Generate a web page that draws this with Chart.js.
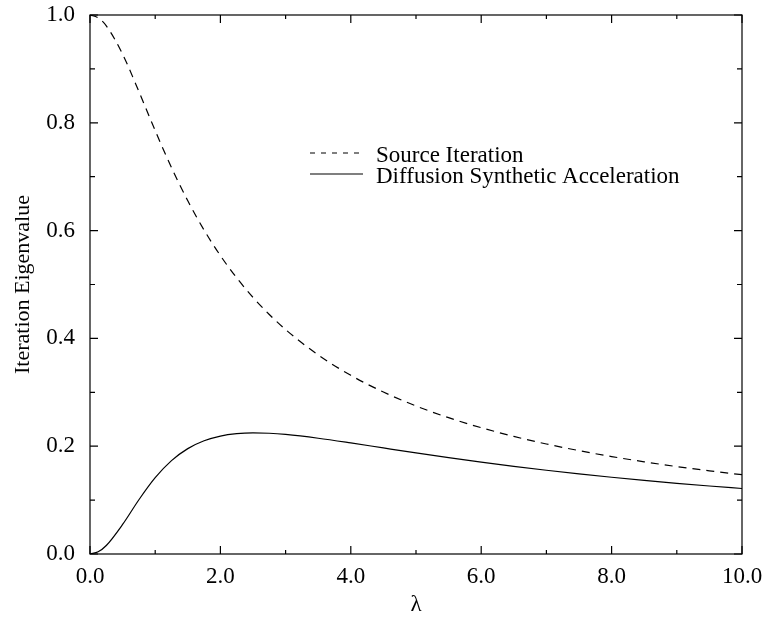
<!DOCTYPE html>
<html>
<head>
<meta charset="utf-8">
<script src="https://cdn.jsdelivr.net/npm/chart.js@4/dist/chart.umd.min.js"></script>
<style>
  html, body { margin: 0; padding: 0; background: #ffffff; }
  #wrap { width: 765px; height: 619px; position: relative; }
</style>
</head>
<body>
<div id="wrap"><canvas id="c" width="765" height="619"></canvas></div>
<script>
// ---- data ----
const lambdaVals = [0, 0.125, 0.25, 0.5, 0.75, 1.0, 1.25, 1.5, 1.75, 2.0, 2.25, 2.5, 2.75, 3.0, 3.5, 4.0, 4.5, 5.0, 5.5, 6.0, 6.5, 7.0, 7.5, 8.0, 8.5, 9.0, 9.5, 10.0];
const sourceIteration = [1.0000, 0.9948, 0.9799, 0.9273, 0.8580, 0.7854, 0.7168, 0.6552, 0.6009, 0.5536, 0.5123, 0.4761, 0.4444, 0.4163, 0.3693, 0.3315, 0.3005, 0.2747, 0.2529, 0.2343, 0.2182, 0.2041, 0.1918, 0.1808, 0.1710, 0.1622, 0.1543, 0.1471];
const dsaVals = [0.0000, 0.0041, 0.0158, 0.0548, 0.1007, 0.1416, 0.1732, 0.1955, 0.2100, 0.2188, 0.2232, 0.2247, 0.2240, 0.2218, 0.2148, 0.2061, 0.1968, 0.1876, 0.1788, 0.1705, 0.1627, 0.1554, 0.1487, 0.1424, 0.1366, 0.1312, 0.1262, 0.1215];
const seriesLabels = ["Source Iteration", "Diffusion Synthetic Acceleration"];
const xTickMajor = [0, 2, 4, 6, 8, 10];
const xTickMinor = [1, 3, 5, 7, 9];
const yTickMajor = [0, 0.2, 0.4, 0.6, 0.8, 1.0];
const yTickMinor = [0.1, 0.3, 0.5, 0.7, 0.9];
const xTitle = "λ";
const yTitle = "Iteration Eigenvalue";

const FONT = "'Liberation Serif', 'Times New Roman', serif";

const toPts = (ys) => lambdaVals.map((x, i) => ({ x: x, y: ys[i] }));

const frameTicks = {
  id: 'frameTicks',
  afterDatasetsDraw(chart) {
    const { ctx, chartArea: a, scales } = chart;
    const xs = scales.x, ys = scales.y;
    ctx.save();
    ctx.strokeStyle = '#000';
    ctx.lineWidth = 1.2;
    ctx.setLineDash([]);
    ctx.strokeRect(a.left, a.top, a.right - a.left, a.bottom - a.top);
    const tick = (vals, len) => {
      vals.forEach(v => {
        const px = xs.getPixelForValue(v);
        ctx.beginPath();
        ctx.moveTo(px, a.bottom); ctx.lineTo(px, a.bottom - len);
        ctx.moveTo(px, a.top); ctx.lineTo(px, a.top + len);
        ctx.stroke();
      });
    };
    const tickY = (vals, len) => {
      vals.forEach(v => {
        const py = ys.getPixelForValue(v);
        ctx.beginPath();
        ctx.moveTo(a.left, py); ctx.lineTo(a.left + len, py);
        ctx.moveTo(a.right, py); ctx.lineTo(a.right - len, py);
        ctx.stroke();
      });
    };
    tick(xTickMajor, 8); tick(xTickMinor, 4);
    tickY(yTickMajor, 8); tickY(yTickMinor, 5);

    // legend inside plot
    ctx.font = "23px " + FONT;
    ctx.fillStyle = '#000';
    ctx.textBaseline = 'alphabetic';
    ctx.textAlign = 'left';
    const rows = [{ y: 153, tb: 162 }, { y: 174, tb: 183 }];
    chart.data.datasets.forEach((ds, i) => {
      const r = rows[i];
      ctx.lineWidth = ds.borderWidth;
      ctx.setLineDash(ds.borderDash && ds.borderDash.length ? [5, 6] : []);
      ctx.beginPath();
      ctx.moveTo(310, r.y); ctx.lineTo(363, r.y);
      ctx.stroke();
      ctx.setLineDash([]);
      ctx.fillText(ds.label, 376, r.tb);
    });
    ctx.restore();
  }
};

new Chart(document.getElementById('c'), {
  type: 'line',
  data: {
    datasets: [
      { label: seriesLabels[0], data: toPts(sourceIteration), borderColor: '#000', borderWidth: 1.2, borderDash: [8, 6], pointRadius: 0, fill: false, cubicInterpolationMode: 'monotone' },
      { label: seriesLabels[1], data: toPts(dsaVals), borderColor: '#000', borderWidth: 1.2, borderDash: [], pointRadius: 0, fill: false, cubicInterpolationMode: 'monotone' }
    ]
  },
  options: {
    responsive: false,
    animation: false,
    devicePixelRatio: 1,
    layout: { padding: { top: 15, right: 23, left: 0, bottom: 0 } },
    plugins: { legend: { display: false }, tooltip: { enabled: false } },
    scales: {
      x: {
        type: 'linear', min: 0, max: 10,
        grid: { display: false, drawTicks: false },
        border: { display: false },
        ticks: { stepSize: 2, padding: 9, color: '#000', font: { family: FONT, size: 23 }, maxRotation: 0, callback: v => Number(v).toFixed(1) },
        title: { display: true, text: xTitle, color: '#000', font: { family: FONT, size: 23, lineHeight: 1.2 }, padding: 0 },
        afterFit: s => { s.height = 65; s.paddingLeft = 0; s.paddingRight = 0; }
      },
      y: {
        type: 'linear', min: 0, max: 1,
        grid: { display: false, drawTicks: false },
        border: { display: false },
        ticks: { stepSize: 0.2, padding: 15, color: '#000', font: { family: FONT, size: 23 }, callback: v => Number(v).toFixed(1) },
        title: { display: true, text: yTitle, color: '#000', font: { family: FONT, size: 22, lineHeight: 1.2 }, padding: { top: 10, bottom: 0 } },
        afterFit: s => { s.width = 90; s.paddingTop = 0; s.paddingBottom = 0; }
      }
    }
  },
  plugins: [frameTicks]
});
</script>
</body>
</html>
